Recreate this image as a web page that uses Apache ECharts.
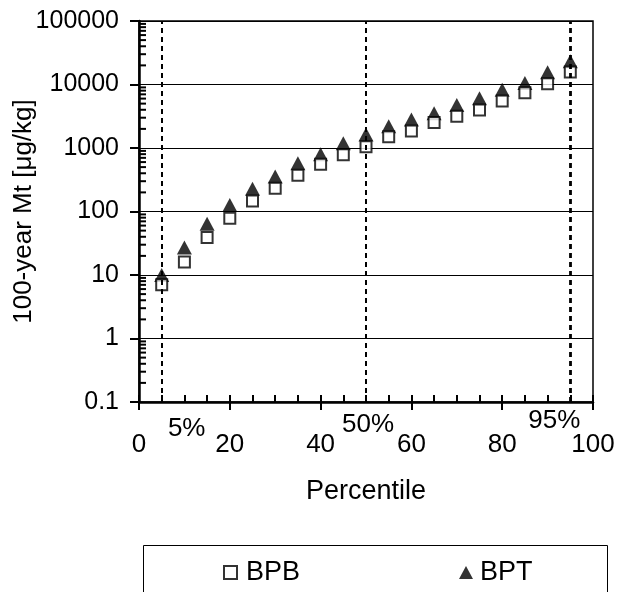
<!DOCTYPE html>
<html>
<head>
<meta charset="utf-8">
<script src="https://cdn.jsdelivr.net/npm/echarts@6/dist/echarts.min.js"></script>
<style>html,body{margin:0;padding:0;background:#fff;}#c{width:618px;height:592px;}</style>
</head>
<body>
<div id="c"></div>
<script>
const percentiles = [5,10,15,20,25,30,35,40,45,50,55,60,65,70,75,80,85,90,95];
const bpb = [7,16,39,78,147,233,373,556,780,1050,1500,1860,2510,3160,3980,5500,7430,10300,15700];
const bpt = [10,27,64,127,228,355,577,795,1190,1625,2200,2800,3520,4760,6070,8280,10570,15560,23170];
const xTickLabels = ['0','20','40','60','80','100'];
const yTickLabels = ['0.1','1','10','100','1000','10000','100000'];
const refPercentiles = [5,50,95];
const refLabels = ['5%','50%','95%'];
const yMinorTicks = [];
for (let e = -1; e < 5; e++) for (let m = 2; m <= 9; m++) yMinorTicks.push(m * Math.pow(10, e));

const FONT = 'Liberation Sans, Arial, sans-serif';
const chart = echarts.init(document.getElementById('c'), null, {renderer:'canvas'});
const option = {
  animation: false,
  backgroundColor: '#fff',
  grid: {left:139, right:25, top:21, bottom:190, containLabel:false, outerBoundsMode:'none',
         show:true, borderColor:'#000', borderWidth:1.5, backgroundColor:'transparent'},
  xAxis: [{
    type:'value', min:0, max:100, interval:20,
    name:'Percentile', nameLocation:'middle', nameGap:76, nameMoveOverlap:false,
    nameTextStyle:{fontFamily:FONT, fontSize:27, color:'#000'},
    axisLine:{show:true, lineStyle:{color:'#000', width:2.5}},
    axisTick:{show:true, inside:false, length:8, lineStyle:{color:'#000', width:2}},
    axisLabel:{fontFamily:FONT, fontSize:26, color:'#000', margin:30, formatter:(v,i)=>xTickLabels[i]},
    splitLine:{show:false}
  },{
    type:'value', min:0, max:100, interval:5, position:'bottom',
    axisLine:{show:false}, axisLabel:{show:false}, splitLine:{show:false},
    axisTick:{show:true, inside:true, length:7, lineStyle:{color:'#000', width:2}}
  }],
  yAxis: [{
    type:'log', logBase:10, min:0.1, max:100000,
    name:'100-year Mt [\u03bcg/kg]', nameLocation:'middle', nameGap:102, nameMoveOverlap:false,
    nameTextStyle:{fontFamily:FONT, fontSize:26, color:'#000'},
    axisLine:{show:true, lineStyle:{color:'#000', width:2.5}},
    axisTick:{show:true, inside:false, length:9, lineStyle:{color:'#000', width:2}},
    axisLabel:{fontFamily:FONT, fontSize:25, color:'#000', margin:20, formatter:(v,i)=>yTickLabels[i]},
    splitLine:{show:true, lineStyle:{color:'#000', width:1}}
  }],
  legend: [{
    data:['BPB'], left:218, top:554, itemWidth:13, itemHeight:13,
    textStyle:{fontFamily:FONT, fontSize:27, color:'#000', padding:[0,0,0,4]}
  },{
    data:['BPT'], left:454, top:554, itemWidth:14, itemHeight:13,
    textStyle:{fontFamily:FONT, fontSize:27, color:'#000', padding:[0,0,0,2]}
  }],
  graphic: [
    {type:'rect', left:141, top:543, shape:{width:464, height:70}, style:{fill:'none', stroke:'#000', lineWidth:1}, z:-1}
  ],
  series: [
    {
      name:'BPT', type:'scatter', symbol:'triangle', symbolSize:[15,14],
      itemStyle:{color:'#000'},
      data: percentiles.map((p,i)=>[p,bpt[i]]), z:3,
      markLine:{
        silent:true, symbol:'none', animation:false,
        label:{show:false},
        lineStyle:{color:'#000', type:[5,4], width:2},
        data: refPercentiles.map((p,i)=>({xAxis:p, lineStyle:{width: i===2?2.8:2}}))
      }
    },
    {
      name:'BPB', type:'scatter', symbol:'rect', symbolSize:11,
      itemStyle:{color:'#fff', borderColor:'#000', borderWidth:2},
      data: percentiles.map((p,i)=>[p,bpb[i]]), z:4
    },
    {
      type:'custom', clip:false, silent:true, z:5,
      data: yMinorTicks.map(v=>[0,v]),
      renderItem:(params, api)=>{
        const pt = api.coord([api.value(0), api.value(1)]);
        return {type:'line', shape:{x1:pt[0], y1:pt[1], x2:pt[0]+7, y2:pt[1]}, style:{stroke:'#000', lineWidth:2}};
      }
    }
  ]
};
chart.setOption(option);
// reference-percentile annotations placed via the axis scale
const annOffsets = [[25,27],[2,23],[-16,19]];
const g = option.graphic.slice();
refPercentiles.forEach((p,i)=>{
  const px = chart.convertToPixel({xAxisIndex:0}, p);
  const py = chart.convertToPixel({yAxisIndex:0}, 0.1);
  g.push({type:'text', x:px+annOffsets[i][0], y:py+annOffsets[i][1],
    style:{text:refLabels[i], fontFamily:FONT, fontSize:26, fill:'#000', align:'center', verticalAlign:'middle'}, z:10});
});
chart.setOption({graphic:g});
</script>
</body>
</html>
